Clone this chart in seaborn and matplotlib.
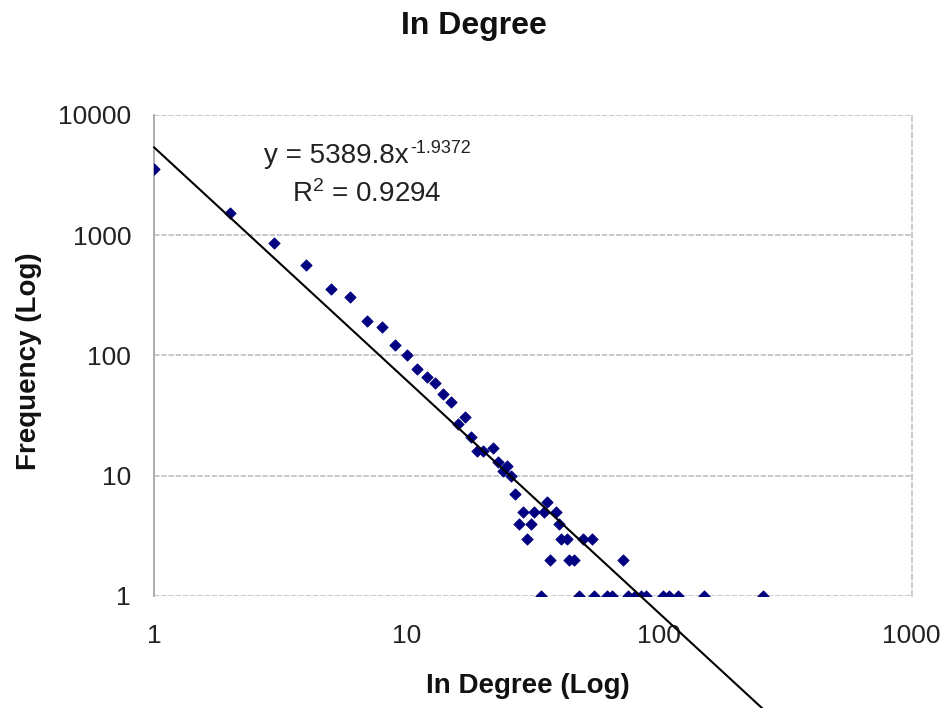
import pandas as pd
import matplotlib.pyplot as plt
import seaborn as sns

# =========================
# Данные
# =========================
in_degree = [1, 2, 3, 4, 5, 6, 7, 8, 9, 10,
             11, 12, 13, 14, 15, 16, 17, 18, 19, 20,
             22, 23, 24, 25, 26, 27, 28, 29, 30, 31,
             32, 35, 36, 37, 39, 40, 41, 43, 44, 46,
             50, 54, 72,
             34, 48, 55, 62, 65, 75, 80, 85, 89, 104,
             109, 119, 151, 257]
frequency = [3550, 1520, 855, 567, 354, 304, 194, 171, 122, 101,
             77, 66, 59, 48, 41, 27, 31, 21, 16, 16,
             17, 13, 11, 12, 10, 7, 4, 5, 3, 4,
             5, 5, 6, 2, 5, 4, 3, 3, 2, 2,
             3, 3, 2,
             1, 1, 1, 1, 1, 1, 1, 1, 1, 1,
             1, 1, 1, 1]

# степенной тренд из подписи графика
fit_a = 5389.8
fit_b = -1.9372
fit_r2 = 0.9294

df = pd.DataFrame({"x": in_degree, "y": frequency})
fit_x = [min(in_degree), max(in_degree)]
fit_df = pd.DataFrame({"x": fit_x, "y": [fit_a * v ** fit_b for v in fit_x]})

sns.set_style("white")
plt.rcParams['font.family'] = ['Liberation Sans', 'DejaVu Sans']
plt.rcParams['mathtext.default'] = 'regular'

fig = plt.figure(figsize=(9.48, 7.08), dpi=100)
ax = fig.add_axes([0.1624, 0.1582, 0.7993, 0.6794])

# =========================
# Точки и линия тренда
# =========================
sns.scatterplot(data=df, x="x", y="y", marker="D", s=34, color="#000080",
                edgecolor="#000080", linewidth=0.5, ax=ax, zorder=3)
sns.lineplot(data=fit_df, x="x", y="y", color="black", linewidth=1.5,
             ax=ax, zorder=4, clip_on=False)

ax.set_xscale("log")
ax.set_yscale("log")
ax.set_xlim(1, 1000)
ax.set_ylim(1, 10000)

xt = [1, 10, 100, 1000]
yt = [1, 10, 100, 1000, 10000]
ax.set_xticks(xt)
ax.set_xticklabels([str(v) for v in xt])
ax.set_yticks(yt)
ax.set_yticklabels([str(v) for v in yt])
ax.minorticks_off()
ax.tick_params(axis="x", length=0, pad=20, labelsize=19, labelcolor="#222222")
ax.tick_params(axis="y", direction="inout", length=7, width=1, color="#a8a8a8",
               pad=13, labelsize=19, labelcolor="#222222")

# сетка и рамка
ax.yaxis.grid(True, color="#c4c4c4", linestyle=(0, (3, 1)), linewidth=1.3)
ax.xaxis.grid(False)
for side in ["top", "bottom"]:
    ax.spines[side].set_visible(False)
ax.spines["left"].set_color("#a8a8a8")
ax.spines["left"].set_linestyle((0, (3, 1)))
ax.spines["left"].set_linewidth(1.3)
ax.spines["right"].set_color("#c4c4c4")
ax.spines["right"].set_linestyle((0, (3, 2)))
ax.spines["right"].set_linewidth(1.2)

ax.set_xlabel("")
ax.set_ylabel("")

# подпись уравнения тренда
eq = ax.text(0.1452, 0.8996, "y = 5389.8x", transform=ax.transAxes,
             fontsize=20, va="baseline", ha="left", color="#222222")
ax.annotate("-1.9372", xy=(1, 1), xycoords=eq, xytext=(1, 2.5),
            textcoords="offset points", fontsize=13, va="top", ha="left",
            color="#222222")
ax.text(0.1817, 0.8198, "R$^{2}$ = %.4f" % fit_r2, transform=ax.transAxes,
        fontsize=20, va="baseline", ha="left", color="#222222")

fig.text(0.5, 0.952, "In Degree", ha="center", va="baseline",
         fontsize=23, fontweight="bold", color="#111111")
fig.text(0.5565, 0.031, "In Degree (Log)", ha="center", va="center",
         fontsize=20, fontweight="bold", color="#111111")
fig.text(0.031, 0.49, "Frequency (Log)", ha="center", va="center",
         rotation=90, fontsize=20, fontweight="bold", color="#111111")

plt.savefig("out.png", dpi=100)
plt.close()
